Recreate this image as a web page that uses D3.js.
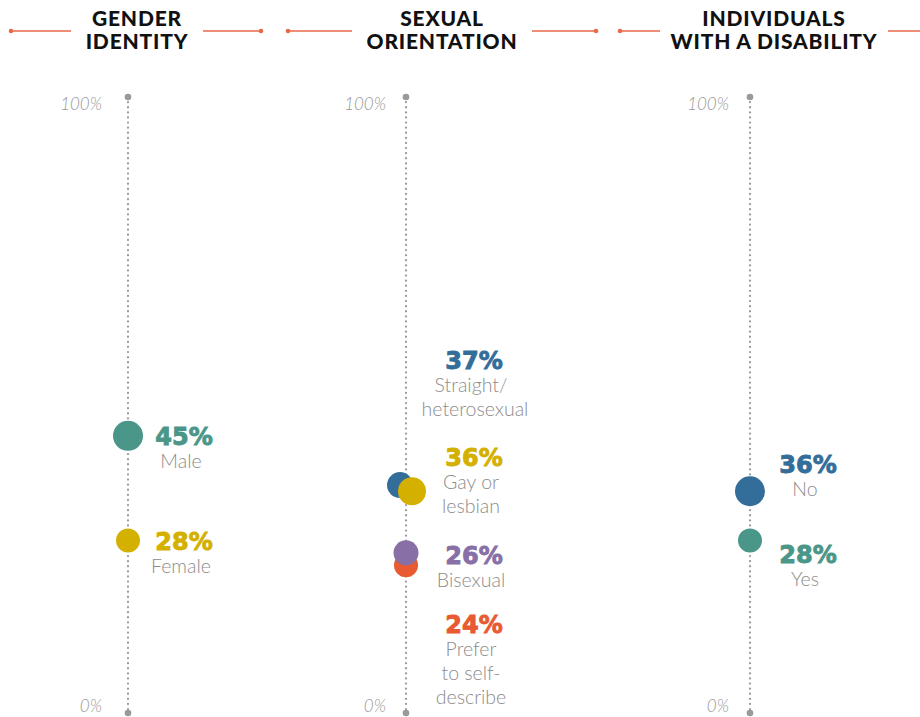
<!DOCTYPE html>
<html>
<head>
<meta charset="utf-8">
<script src="https://cdn.jsdelivr.net/npm/d3@7"></script>
<style>
  body { margin: 0; background: #fff; }
  svg { display: block; }
  .title { font-family: Lato, sans-serif; font-weight: 900; font-size: 21px; fill: #111; letter-spacing: 0.8px; }
  .pct { font-family: "DejaVu Sans", sans-serif; font-weight: bold; font-size: 24px; stroke-width: 0.9px; }
  .name { font-family: Lato, sans-serif; font-weight: 300; font-size: 19.5px; fill: #8c8c8c; }
  .tick { font-family: Lato, sans-serif; font-style: italic; font-weight: 300; font-size: 17px; fill: #999; }
</style>
</head>
<body>
<svg id="chart" width="920" height="717"></svg>
<script>
// data
var panelTitles = [["GENDER", "IDENTITY"], ["SEXUAL", "ORIENTATION"], ["INDIVIDUALS", "WITH A DISABILITY"]];

var genderCats = ["Male", "Female"];
var genderVals = [45, 28];

var orientCats = ["Straight/heterosexual", "Gay or lesbian", "Prefer to self-describe", "Bisexual"];
var orientVals = [37, 36, 24, 26];

var disabilityCats = ["No", "Yes"];
var disabilityVals = [36, 28];

var tickLabels = ["0%", "100%"];

// look
var colors = {
  "Male": "#4a9688", "Female": "#d4b000",
  "Straight/heterosexual": "#336e9a", "Gay or lesbian": "#d4b000",
  "Bisexual": "#8870a6", "Prefer to self-describe": "#e85a32",
  "No": "#336e9a", "Yes": "#4a9688"
};
var radius = {
  "Male": 15, "Female": 12, "Straight/heterosexual": 13, "Gay or lesbian": 14,
  "Bisexual": 12.5, "Prefer to self-describe": 12, "No": 15, "Yes": 12
};
// label text lines
var nameLines = {
  "Straight/heterosexual": ["Straight/", "heterosexual"],
  "Gay or lesbian": ["Gay or", "lesbian"],
  "Prefer to self-describe": ["Prefer", "to self-", "describe"]
};
// small nudges so overlapping dots / labels stay readable
var dotDx = { "Straight/heterosexual": -6, "Gay or lesbian": 6 };
var labelShift = {
  "Straight/heterosexual": -125, "Gay or lesbian": -34,
  "Bisexual": 2, "Prefer to self-describe": 59, "No": -27, "Yes": 13
};
var labelDx = { "Straight/heterosexual": 4 };

var panels = [
  { cats: genderCats, vals: genderVals, axisX: 128, titleX: 137, labelX: 184, tickX: 102,
    lines: [[11, 71, "l"], [203, 261, "r"]] },
  { cats: orientCats, vals: orientVals, axisX: 406, titleX: 442, labelX: 474, tickX: 386,
    lines: [[288, 352, "l"], [532, 596, "r"]] },
  { cats: disabilityCats, vals: disabilityVals, axisX: 750, titleX: 774, labelX: 808, tickX: 729,
    lines: [[620, 660, "l"], [888, 930, "r"]] }
];

var svg = d3.select("#chart");
var y = d3.scaleLinear().domain([0, 100]).range([713, 97]);
var lineColor = "#e8694a";

panels.forEach(function(p, i) {
  var g = svg.append("g");

  // header
  var t = g.append("text").attr("class", "title").attr("text-anchor", "middle");
  t.append("tspan").attr("x", p.titleX).attr("y", 26).text(panelTitles[i][0]);
  t.append("tspan").attr("x", p.titleX).attr("y", 49).text(panelTitles[i][1]);
  p.lines.forEach(function(l) {
    g.append("line").attr("x1", l[0]).attr("x2", l[1]).attr("y1", 31).attr("y2", 31)
      .attr("stroke", lineColor).attr("stroke-width", 1.3);
    g.append("circle").attr("cx", l[2] == "l" ? l[0] : l[1]).attr("cy", 31).attr("r", 2.3)
      .attr("fill", lineColor);
  });

  // dotted axis
  g.append("line").attr("x1", p.axisX).attr("x2", p.axisX)
    .attr("y1", y(100)).attr("y2", y(0))
    .attr("stroke", "#999").attr("stroke-width", 2.2)
    .attr("stroke-dasharray", "0.1,5").attr("stroke-linecap", "round");
  [0, 100].forEach(function(v) {
    g.append("circle").attr("cx", p.axisX).attr("cy", y(v)).attr("r", 3.3).attr("fill", "#999");
  });
  g.selectAll("text.tick").data([0, 100]).enter().append("text")
    .attr("class", "tick").attr("text-anchor", "end")
    .attr("x", p.tickX)
    .attr("y", function(d) { return y(d) + (d == 0 ? -1 : 13); })
    .text(function(d, j) { return tickLabels[j]; });

  var rows = p.cats.map(function(c, j) { return { cat: c, val: p.vals[j] }; });

  // dots
  g.selectAll("circle.dot").data(rows).enter().append("circle")
    .attr("class", "dot")
    .attr("cx", function(d) { return p.axisX + (dotDx[d.cat] || 0); })
    .attr("cy", function(d) { return y(d.val); })
    .attr("r", function(d) { return radius[d.cat]; })
    .attr("fill", function(d) { return colors[d.cat]; });

  // labels
  var lab = g.selectAll("g.lab").data(rows).enter().append("g")
    .attr("class", "lab")
    .attr("transform", function(d) {
      return "translate(" + p.labelX + "," + (y(d.val) + (labelShift[d.cat] || 0)) + ")";
    });
  lab.append("text").attr("class", "pct").attr("text-anchor", "middle")
    .attr("y", 9)
    .attr("fill", function(d) { return colors[d.cat]; })
    .attr("stroke", function(d) { return colors[d.cat]; })
    .text(function(d) { return d.val + "%"; });
  lab.each(function(d) {
    var lines = nameLines[d.cat] || [d.cat];
    var t = d3.select(this).append("text").attr("class", "name").attr("text-anchor", "middle");
    lines.forEach(function(s, k) {
      var dx = (k == lines.length - 1 && labelDx[d.cat]) ? labelDx[d.cat] : 0;
      t.append("tspan").attr("x", -3 + dx).attr("y", 32 + k * 24).text(s);
    });
  });
});
</script>
</body>
</html>
